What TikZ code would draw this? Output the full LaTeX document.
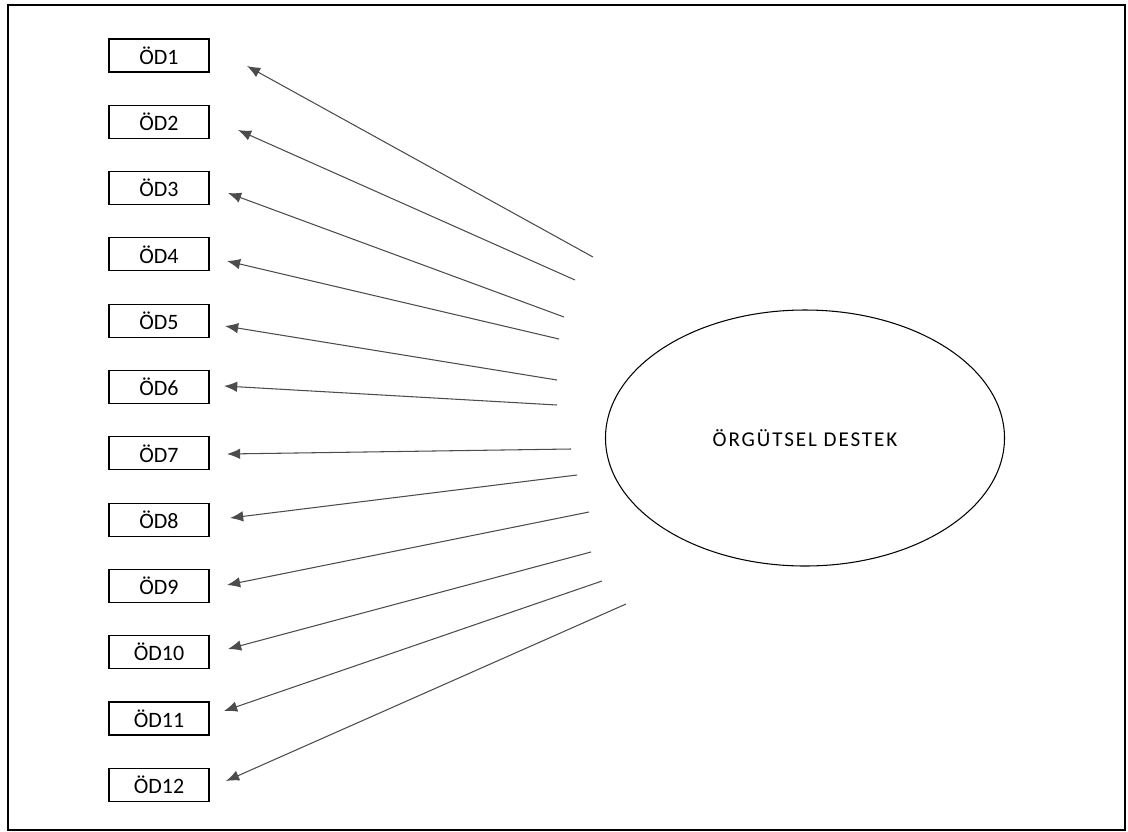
\documentclass[tikz,border=0pt]{standalone}
\usepackage{fontspec}
\setmainfont{Carlito}
\usetikzlibrary{shapes.geometric,arrows.meta}

\tikzset{
  item/.style={draw,line width=0.6pt,minimum width=2cm,minimum height=0.66cm,inner sep=0pt,
    font=\fontsize{12.5}{14}\selectfont},
  factor/.style={draw,ellipse,line width=0.6pt,minimum width=7.98cm,minimum height=5.12cm,
    font=\fontsize{12}{14}\selectfont\addfontfeature{LetterSpace=9}},
  load/.style={->,line width=0.6pt,draw=black!70}
}

\begin{document}
\begin{tikzpicture}[x=0.2mm,y=-0.2mm,>={Latex[length=7.5pt,width=6pt]}]
	\useasboundingbox (0,0) rectangle (1128,832);
	% outer frame
	\draw[line width=0.9pt] (8,5) rectangle (1125,830);

	% the latent factor
	\node[factor] (destek) at (805,438) {ÖRGÜTSEL DESTEK};

	% indicator boxes
	\foreach \i in {1,...,12} {
		\node[item] (od\i) at (159,{55.5+66.3*(\i-1)}) {ÖD\i};
	}

	% arrows from the factor towards the boxes
	\foreach \i/\sx/\sy/\tx/\ty in {1/593/257/247/66, 2/575/280/238/130, 3/564/317/228/193,
	    4/559/339/227/261, 5/557/380/225/326, 6/557/405/224/386, 7/571/449/227/454,
	    8/577/475/230/518, 9/589/512/227/585, 10/591/552/228/649, 11/602/581/224/711,
	    12/626/604/226/781} {
		\coordinate (s\i) at (\sx,\sy);
		\coordinate (t\i) at (\tx,\ty);
		\draw[load] (s\i) -- (t\i);
	}
\end{tikzpicture}
\end{document}
